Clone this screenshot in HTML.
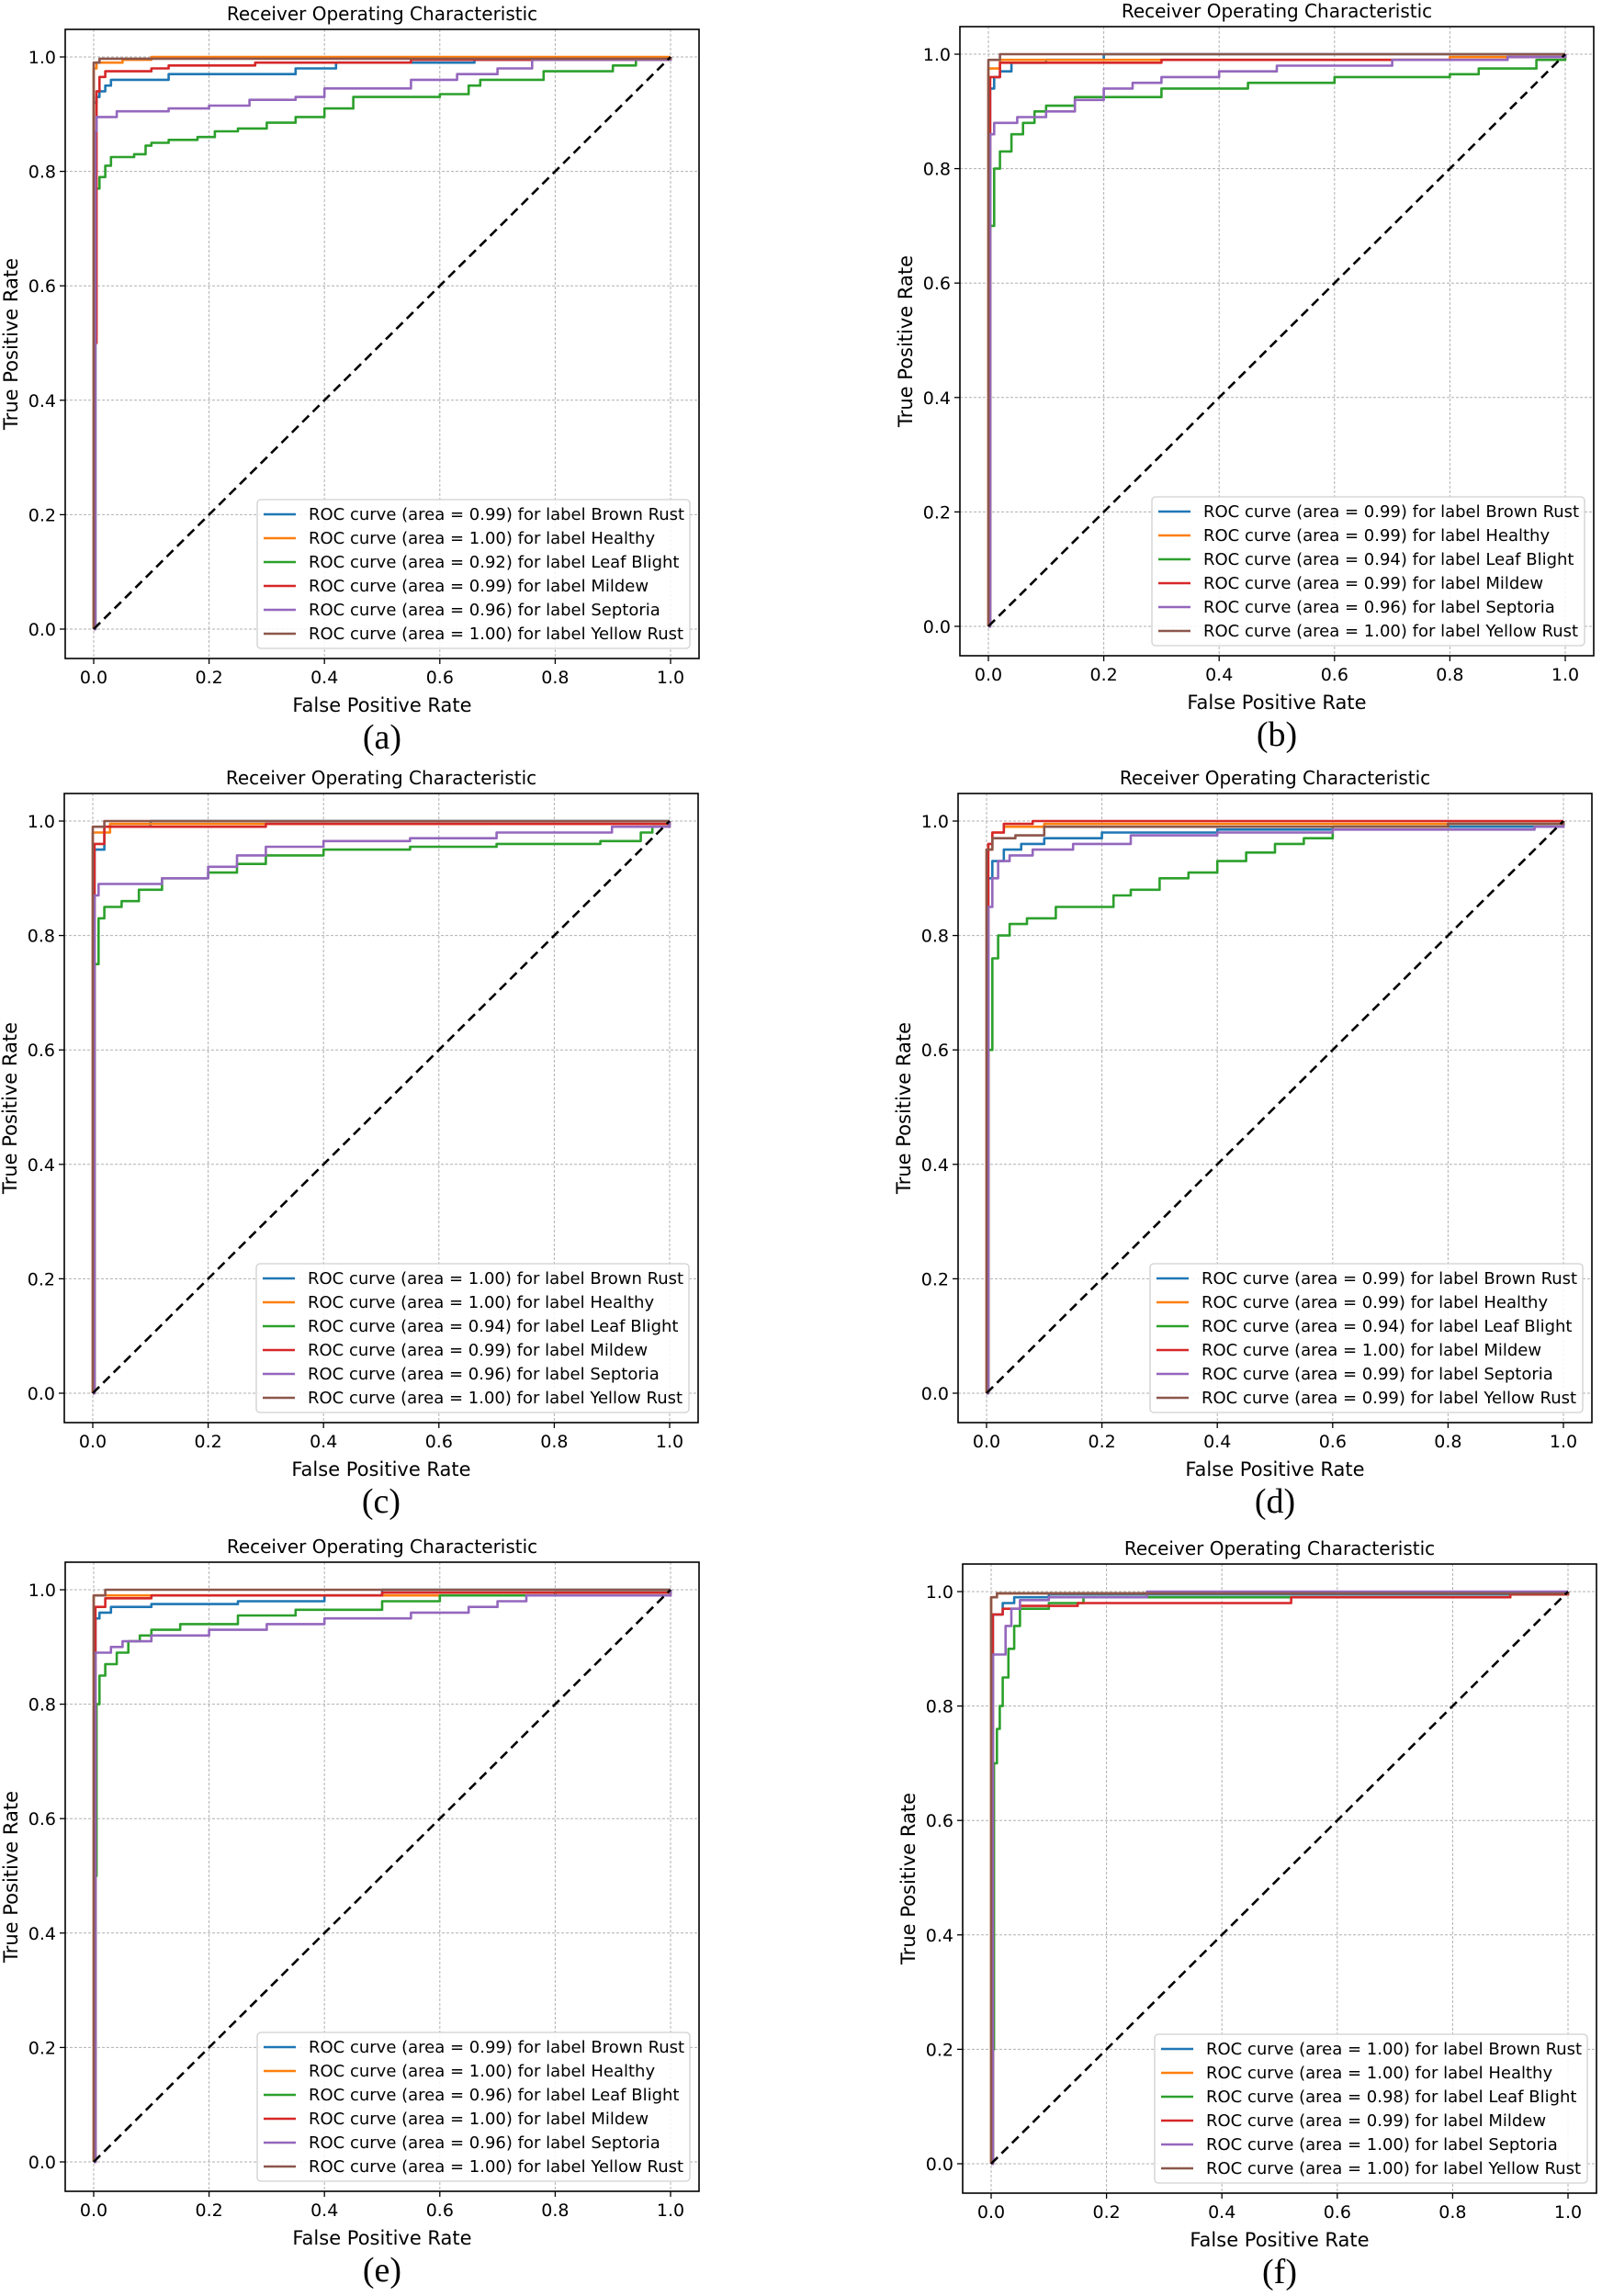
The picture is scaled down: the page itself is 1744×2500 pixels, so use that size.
<!DOCTYPE html>
<html><head><meta charset="utf-8"><style>
html,body{margin:0;padding:0;background:#fff;}
svg{display:block;}
text{font-family:"DejaVu Sans","Liberation Sans",sans-serif;fill:#000;}
</style></head><body>
<svg id="s" width="1744" height="2500" xmlns="http://www.w3.org/2000/svg"></svg>
<script>
const C=['#1f77b4','#ff7f0e','#2ca02c','#d62728','#9467bd','#8c564b'];
const names=['Brown Rust','Healthy','Leaf Blight','Mildew','Septoria','Yellow Rust'];
const panels=[
{l:71,t:32,lab:'(a)',areas:['0.99','1.00','0.92','0.99','0.96','1.00'],curves:[
[[0,0],[0,0.92],[0.005,0.93],[0.01,0.94],[0.02,0.95],[0.03,0.96],[0.13,0.96],[0.13,0.97],[0.25,0.97],[0.35,0.98],[0.42,0.98],[0.42,0.99],[0.66,0.995],[1,1]],
[[0,0],[0,0.98],[0.005,0.99],[0.03,0.99],[0.05,0.995],[0.1,1],[1,1]],
[[0.002,0],[0.003,0.77],[0.01,0.79],[0.02,0.81],[0.03,0.825],[0.07,0.83],[0.09,0.845],[0.1,0.85],[0.13,0.855],[0.18,0.86],[0.21,0.87],[0.25,0.875],[0.3,0.885],[0.35,0.895],[0.4,0.91],[0.45,0.93],[0.6,0.935],[0.65,0.95],[0.67,0.96],[0.75,0.96],[0.78,0.975],[0.9,0.985],[0.94,0.995],[1,1]],
[[0,0],[0.002,0.5],[0.005,0.94],[0.01,0.965],[0.02,0.975],[0.1,0.98],[0.13,0.985],[0.28,0.99],[0.55,0.995],[1,1]],
[[0,0],[0.003,0.87],[0.005,0.895],[0.03,0.895],[0.04,0.905],[0.13,0.91],[0.2,0.915],[0.27,0.925],[0.35,0.93],[0.4,0.945],[0.55,0.96],[0.6,0.96],[0.63,0.97],[0.7,0.98],[0.76,0.995],[1,1]],
[[0,0],[0,0.99],[0.01,0.997],[1,1]]]},
{l:1045,t:29,lab:'(b)',areas:['0.99','0.99','0.94','0.99','0.96','1.00'],curves:[
[[0,0],[0.003,0.94],[0.01,0.96],[0.02,0.97],[0.04,0.985],[0.1,0.99],[0.2,1],[1,1]],
[[0,0],[0,0.975],[0.02,0.99],[0.8,0.995],[1,1]],
[[0,0],[0.003,0.7],[0.01,0.8],[0.02,0.83],[0.04,0.86],[0.06,0.88],[0.08,0.9],[0.1,0.91],[0.15,0.925],[0.3,0.94],[0.45,0.95],[0.6,0.96],[0.8,0.965],[0.85,0.975],[0.95,0.99],[1,1]],
[[0,0],[0.003,0.96],[0.02,0.985],[0.3,0.99],[0.9,0.995],[1,1]],
[[0,0],[0.003,0.86],[0.01,0.88],[0.05,0.89],[0.1,0.9],[0.15,0.92],[0.2,0.94],[0.25,0.95],[0.3,0.96],[0.4,0.97],[0.5,0.98],[0.7,0.99],[0.9,0.995],[1,1]],
[[0,0],[0,0.99],[0.02,1],[1,1]]]},
{l:70,t:864,lab:'(c)',areas:['1.00','1.00','0.94','0.99','0.96','1.00'],curves:[
[[0,0],[0.003,0.95],[0.02,0.99],[0.1,1],[1,1]],
[[0,0],[0,0.98],[0.03,0.995],[1,1]],
[[0,0],[0.003,0.75],[0.01,0.83],[0.02,0.85],[0.05,0.86],[0.08,0.88],[0.12,0.9],[0.2,0.91],[0.25,0.925],[0.3,0.94],[0.4,0.95],[0.55,0.955],[0.7,0.96],[0.88,0.965],[0.95,0.98],[0.97,0.99],[1,1]],
[[0,0],[0.003,0.96],[0.02,0.99],[0.3,0.995],[1,1]],
[[0,0],[0.003,0.87],[0.01,0.89],[0.08,0.89],[0.12,0.9],[0.2,0.92],[0.25,0.94],[0.3,0.955],[0.4,0.965],[0.55,0.97],[0.7,0.98],[0.9,0.99],[1,1]],
[[0,0],[0,0.99],[0.02,1],[1,1]]]},
{l:1043,t:864,lab:'(d)',areas:['0.99','0.99','0.94','1.00','0.99','0.99'],curves:[
[[0,0],[0.003,0.9],[0.01,0.93],[0.03,0.95],[0.06,0.96],[0.1,0.97],[0.2,0.98],[0.4,0.985],[0.6,0.99],[1,1]],
[[0,0],[0,0.95],[0.01,0.98],[0.03,0.99],[0.1,0.995],[1,1]],
[[0,0],[0.003,0.6],[0.01,0.76],[0.02,0.8],[0.04,0.82],[0.07,0.83],[0.12,0.85],[0.2,0.85],[0.22,0.87],[0.25,0.88],[0.3,0.9],[0.35,0.91],[0.4,0.93],[0.45,0.945],[0.5,0.96],[0.55,0.97],[0.6,0.99],[0.8,0.995],[1,1]],
[[0,0],[0.003,0.96],[0.01,0.98],[0.03,0.995],[0.08,1],[1,1]],
[[0,0],[0.003,0.85],[0.01,0.9],[0.02,0.93],[0.04,0.94],[0.08,0.95],[0.15,0.96],[0.25,0.975],[0.4,0.98],[0.6,0.985],[0.95,0.99],[1,1]],
[[0,0],[0,0.95],[0.01,0.97],[0.05,0.975],[0.1,0.99],[0.8,0.995],[1,1]]]},
{l:71,t:1701,lab:'(e)',areas:['0.99','1.00','0.96','1.00','0.96','1.00'],curves:[
[[0,0],[0.003,0.95],[0.01,0.96],[0.03,0.97],[0.1,0.975],[0.25,0.98],[0.4,0.99],[0.5,1],[1,1]],
[[0,0],[0,0.99],[1,1]],
[[0,0],[0.003,0.5],[0.005,0.8],[0.01,0.85],[0.02,0.87],[0.04,0.89],[0.06,0.91],[0.08,0.92],[0.1,0.93],[0.15,0.94],[0.25,0.955],[0.35,0.965],[0.5,0.98],[0.6,0.99],[0.8,0.995],[1,1]],
[[0,0],[0.003,0.97],[0.02,0.985],[0.1,0.99],[0.5,0.995],[1,1]],
[[0,0],[0.003,0.89],[0.03,0.9],[0.05,0.91],[0.1,0.92],[0.2,0.93],[0.3,0.94],[0.4,0.95],[0.55,0.96],[0.65,0.97],[0.7,0.98],[0.75,0.99],[1,1]],
[[0,0],[0,0.99],[0.02,1],[1,1]]]},
{l:1048,t:1703,lab:'(f)',areas:['1.00','1.00','0.98','0.99','1.00','1.00'],curves:[
[[0,0],[0.003,0.96],[0.02,0.98],[0.04,0.99],[0.1,0.995],[1,1]],
[[0,0],[0,0.99],[0.01,0.997],[1,1]],
[[0,0],[0.003,0.2],[0.005,0.7],[0.01,0.76],[0.015,0.8],[0.02,0.85],[0.03,0.9],[0.04,0.94],[0.05,0.97],[0.1,0.98],[0.16,0.99],[0.9,0.995],[1,1]],
[[0,0],[0.003,0.96],[0.02,0.97],[0.05,0.975],[0.15,0.98],[0.48,0.98],[0.52,0.99],[0.9,0.995],[1,1]],
[[0,0],[0.003,0.89],[0.02,0.89],[0.025,0.94],[0.035,0.97],[0.05,0.985],[0.1,0.99],[0.27,1],[1,1]],
[[0,0],[0,0.99],[0.01,0.997],[1,1]]]}
];
let o='';
const W=690,H=685,X0=31,XR=628,Y1=30,YR=623;
for(const p of panels){
  const L=p.l,T=p.t;
  const fx=v=>L+X0+v*XR, fy=v=>T+Y1+(1-v)*YR;
  for(let i=0;i<=5;i++){const v=i/5;
    o+=`<line x1="${fx(v)}" y1="${T}" x2="${fx(v)}" y2="${T+H}" stroke="#b0b0b0" stroke-width="1" stroke-dasharray="3,2"/>`;
    o+=`<line x1="${L}" y1="${fy(v)}" x2="${L+W}" y2="${fy(v)}" stroke="#b0b0b0" stroke-width="1" stroke-dasharray="3,2"/>`;
    o+=`<line x1="${fx(v)}" y1="${T+H}" x2="${fx(v)}" y2="${T+H+6}" stroke="#000" stroke-width="1.3"/>`;
    o+=`<line x1="${L-6}" y1="${fy(v)}" x2="${L}" y2="${fy(v)}" stroke="#000" stroke-width="1.3"/>`;
    o+=`<text x="${fx(v)}" y="${T+H+27}" font-size="19" text-anchor="middle">${v.toFixed(1)}</text>`;
    o+=`<text x="${L-10}" y="${fy(v)+7}" font-size="19" text-anchor="end">${v.toFixed(1)}</text>`;
  }
  p.curves.forEach((c,k)=>{
    let pts=[];
    for(let i=0;i<c.length;i++){
      if(i>0){pts.push([c[i][0],c[i-1][1]]);}
      pts.push(c[i]);
    }
    o+=`<polyline fill="none" stroke="${C[k]}" stroke-width="2.6" stroke-linejoin="round" points="${pts.map(q=>fx(q[0]).toFixed(1)+','+fy(q[1]).toFixed(1)).join(' ')}"/>`;
  });
  o+=`<line x1="${fx(0)}" y1="${fy(0)}" x2="${fx(1)}" y2="${fy(1)}" stroke="#000" stroke-width="2.6" stroke-dasharray="10,6"/>`;
  o+=`<rect x="${L}" y="${T}" width="${W}" height="${H}" fill="none" stroke="#000" stroke-width="1.6"/>`;
  const lx=L+W-481, ly=T+H-173;
  o+=`<rect x="${lx}" y="${ly}" width="471" height="162" rx="4" fill="#fff" fill-opacity="0.85" stroke="#d0d0d0" stroke-width="1.3"/>`;
  for(let k=0;k<6;k++){
    const yy=ly+16+k*26;
    o+=`<line x1="${lx+7}" y1="${yy}" x2="${lx+42}" y2="${yy}" stroke="${C[k]}" stroke-width="2.6"/>`;
    o+=`<text x="${lx+56}" y="${yy+6}" font-size="18">ROC curve (area = ${p.areas[k]}) for label ${names[k]}</text>`;
  }
  o+=`<text x="${L+W/2}" y="${T-10}" font-size="20" text-anchor="middle">Receiver Operating Characteristic</text>`;
  o+=`<text x="${L+W/2}" y="${T+H+58}" font-size="21" text-anchor="middle">False Positive Rate</text>`;
  o+=`<text transform="translate(${L-52},${T+H/2}) rotate(-90)" font-size="21" text-anchor="middle">True Positive Rate</text>`;
  o+=`<text x="${L+W/2}" y="${T+H+98}" font-size="38" text-anchor="middle" style="font-family:'Liberation Serif',serif">${p.lab}</text>`;
}
document.getElementById('s').innerHTML=o;
</script>
</body></html>
